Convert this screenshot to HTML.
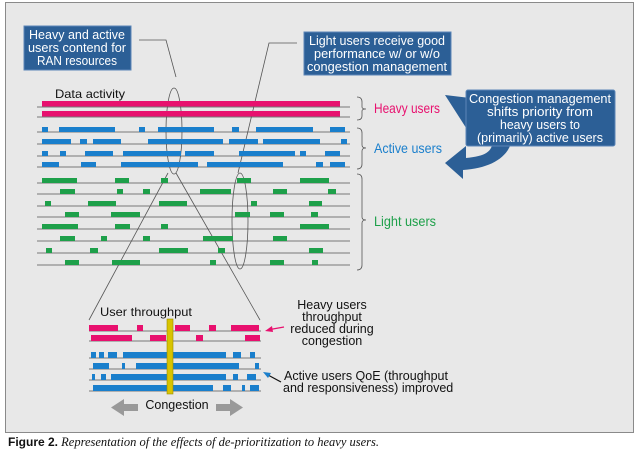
<!DOCTYPE html>
<html><head><meta charset="utf-8"><style>
html,body{margin:0;padding:0;background:#fff;width:640px;height:457px;overflow:hidden}
svg{display:block}
text{font-family:"Liberation Sans",sans-serif}
</style></head><body>
<svg width="640" height="457" viewBox="0 0 640 457" xmlns="http://www.w3.org/2000/svg">
<rect x="5.5" y="2.5" width="628" height="430" fill="#e8e8e8" stroke="#8a8a8a" stroke-width="1"/>

<rect x="24" y="26" width="107" height="44" fill="#2c5f96" stroke="#5b86b8"/>
<g fill="#fff" font-size="12.5" text-anchor="middle">
<text x="77" y="39" textLength="96" lengthAdjust="spacingAndGlyphs">Heavy and active</text>
<text x="77" y="52" textLength="98" lengthAdjust="spacingAndGlyphs">users contend for</text>
<text x="77" y="65" textLength="80" lengthAdjust="spacingAndGlyphs">RAN resources</text>
</g>
<rect x="304" y="32" width="147" height="43" fill="#2c5f96" stroke="#5b86b8"/>
<g fill="#fff" font-size="12.5" text-anchor="middle">
<text x="377" y="45" textLength="136" lengthAdjust="spacingAndGlyphs">Light users receive good</text>
<text x="377" y="58" textLength="126" lengthAdjust="spacingAndGlyphs">performance w/ or w/o</text>
<text x="377" y="71" textLength="140" lengthAdjust="spacingAndGlyphs">congestion management</text>
</g>
<path d="M445,95 L470,98 L470,134 Z" fill="#2c5f96"/>
<path d="M493,140 C492,152 486,156 466,158 L466,146 L445,163 L463,179 L463,170 C490,168 508,158 512,140 Z" fill="#2c5f96"/>
<rect x="466" y="90" width="149" height="56" rx="2" fill="#2c5f96" stroke="#5b86b8"/>
<g fill="#fff" font-size="12.5" text-anchor="middle">
<text x="540" y="103" textLength="142" lengthAdjust="spacingAndGlyphs">Congestion management</text>
<text x="540" y="116" textLength="106" lengthAdjust="spacingAndGlyphs">shifts priority from</text>
<text x="540" y="129" textLength="80" lengthAdjust="spacingAndGlyphs">heavy users to</text>
<text x="540" y="142" textLength="126" lengthAdjust="spacingAndGlyphs">(primarily) active users</text>
</g>

<g fill="none" stroke="#555" stroke-width="0.8">
<polyline points="139,40 166,40 176,77"/>
<polyline points="297,43 269,43 238,173"/>
<ellipse cx="174" cy="131" rx="8" ry="43"/>
<ellipse cx="240" cy="221" rx="8" ry="48"/>
<line x1="168" y1="173" x2="89" y2="320"/>
<line x1="176" y1="173" x2="260" y2="320"/>
</g>

<text x="55" y="98" font-size="12" fill="#111" textLength="70" lengthAdjust="spacingAndGlyphs">Data activity</text>

<g stroke="#555" stroke-width="0.8">
<line x1="37" y1="107" x2="350" y2="107"/><line x1="37" y1="117" x2="350" y2="117"/>
<line x1="37" y1="132" x2="350" y2="132"/><line x1="37" y1="144" x2="350" y2="144"/>
<line x1="37" y1="156" x2="350" y2="156"/><line x1="37" y1="167" x2="350" y2="167"/>
<line x1="37" y1="183" x2="350" y2="183"/><line x1="37" y1="194" x2="350" y2="194"/>
<line x1="37" y1="206" x2="350" y2="206"/><line x1="37" y1="217" x2="350" y2="217"/>
<line x1="37" y1="229" x2="350" y2="229"/><line x1="37" y1="241" x2="350" y2="241"/>
<line x1="37" y1="253" x2="350" y2="253"/><line x1="37" y1="265" x2="350" y2="265"/>
</g>
<g fill="#e8106e">
<rect x="42" y="101" width="298" height="5.5"/><rect x="42" y="111" width="298" height="5.5"/>
</g>
<g fill="#1a7fcc">
<rect x="42" y="127" width="6" height="5"/><rect x="59" y="127" width="56" height="5"/><rect x="139" y="127" width="6" height="5"/><rect x="158" y="127" width="56" height="5"/><rect x="232" y="127" width="7" height="5"/><rect x="256" y="127" width="57" height="5"/><rect x="330" y="127" width="15" height="5"/>
<rect x="42" y="139" width="29" height="5"/><rect x="80" y="139" width="7" height="5"/><rect x="93" y="139" width="28" height="5"/><rect x="148" y="139" width="75" height="5"/><rect x="229" y="139" width="29" height="5"/><rect x="263" y="139" width="57" height="5"/><rect x="341" y="139" width="6" height="5"/>
<rect x="42" y="151" width="6" height="5"/><rect x="60" y="151" width="6" height="5"/><rect x="85" y="151" width="28" height="5"/><rect x="123" y="151" width="58" height="5"/><rect x="185" y="151" width="29" height="5"/><rect x="239" y="151" width="56" height="5"/><rect x="300" y="151" width="6" height="5"/><rect x="325" y="151" width="15" height="5"/>
<rect x="42" y="162" width="17" height="5"/><rect x="81" y="162" width="15" height="5"/><rect x="121" y="162" width="77" height="5"/><rect x="207" y="162" width="76" height="5"/><rect x="316" y="162" width="7" height="5"/><rect x="330" y="162" width="15" height="5"/>
</g>
<g fill="#1ea04a">
<rect x="42" y="178" width="35" height="5"/><rect x="115" y="178" width="14" height="5"/><rect x="161" y="178" width="7" height="5"/><rect x="237" y="178" width="14" height="5"/><rect x="300" y="178" width="29" height="5"/>
<rect x="60" y="189" width="15" height="5"/><rect x="117" y="189" width="6" height="5"/><rect x="143" y="189" width="7" height="5"/><rect x="200" y="189" width="31" height="5"/><rect x="273" y="189" width="14" height="5"/><rect x="328" y="189" width="8" height="5"/>
<rect x="45" y="201" width="6" height="5"/><rect x="88" y="201" width="28" height="5"/><rect x="159" y="201" width="28" height="5"/><rect x="251" y="201" width="6" height="5"/><rect x="309" y="201" width="13" height="5"/>
<rect x="65" y="212" width="14" height="5"/><rect x="111" y="212" width="29" height="5"/><rect x="235" y="212" width="15" height="5"/><rect x="270" y="212" width="14" height="5"/><rect x="311" y="212" width="7" height="5"/>
<rect x="42" y="224" width="36" height="5"/><rect x="115" y="224" width="15" height="5"/><rect x="161" y="224" width="7" height="5"/><rect x="300" y="224" width="29" height="5"/>
<rect x="60" y="236" width="15" height="5"/><rect x="101" y="236" width="6" height="5"/><rect x="143" y="236" width="7" height="5"/><rect x="203" y="236" width="30" height="5"/><rect x="273" y="236" width="14" height="5"/>
<rect x="46" y="248" width="6" height="5"/><rect x="90" y="248" width="8" height="5"/><rect x="159" y="248" width="29" height="5"/><rect x="218" y="248" width="7" height="5"/><rect x="309" y="248" width="14" height="5"/>
<rect x="65" y="260" width="14" height="5"/><rect x="112" y="260" width="28" height="5"/><rect x="210" y="260" width="6" height="5"/><rect x="270" y="260" width="14" height="5"/><rect x="312" y="260" width="6" height="5"/>
</g>

<g fill="none" stroke="#555" stroke-width="0.8">
<path d="M357,97 Q362,97 362,102 L362,107 Q362,109 366,109 Q362,109 362,111 L362,116 Q362,120 357,120"/>
<path d="M357,128 Q362,128 362,133 L362,145 Q362,148 366,148 Q362,148 362,151 L362,164 Q362,169 357,169"/>
<path d="M357,174 Q362,174 362,179 L362,217 Q362,220 366,220 Q362,220 362,223 L362,265 Q362,270 357,270"/>
</g>
<text x="374" y="113" font-size="14" fill="#e8106e" textLength="66" lengthAdjust="spacingAndGlyphs">Heavy users</text>
<text x="374" y="153" font-size="14" fill="#1a7fcc" textLength="68" lengthAdjust="spacingAndGlyphs">Active users</text>
<text x="374" y="226" font-size="14" fill="#1ea04a" textLength="62" lengthAdjust="spacingAndGlyphs">Light users</text>

<text x="100" y="316" font-size="12" fill="#111" textLength="92" lengthAdjust="spacingAndGlyphs">User throughput</text>
<g stroke="#555" stroke-width="0.8">
<line x1="89" y1="331" x2="261" y2="331"/><line x1="89" y1="341" x2="261" y2="341"/>
<line x1="89" y1="358" x2="261" y2="358"/><line x1="89" y1="369" x2="261" y2="369"/>
<line x1="89" y1="380" x2="261" y2="380"/><line x1="89" y1="391" x2="261" y2="391"/>
</g>
<g fill="#e8106e">
<rect x="89" y="325" width="29" height="6"/><rect x="137" y="325" width="6" height="6"/><rect x="175" y="325" width="15" height="6"/><rect x="209" y="325" width="7" height="6"/><rect x="231" y="325" width="28" height="6"/>
<rect x="91" y="335" width="41" height="6"/><rect x="150" y="335" width="16" height="6"/><rect x="196" y="335" width="7" height="6"/><rect x="245" y="335" width="15" height="6"/>
</g>
<g fill="#1a7fcc">
<rect x="91" y="352" width="5" height="6"/><rect x="99" y="352" width="5" height="6"/><rect x="108" y="352" width="9" height="6"/><rect x="123" y="352" width="103" height="6"/><rect x="233" y="352" width="8" height="6"/><rect x="250" y="352" width="5" height="6"/>
<rect x="93" y="363" width="16" height="6"/><rect x="122" y="363" width="3" height="6"/><rect x="136" y="363" width="103" height="6"/><rect x="255" y="363" width="4" height="6"/>
<rect x="92" y="374" width="3" height="6"/><rect x="101" y="374" width="5" height="6"/><rect x="111" y="374" width="115" height="6"/><rect x="233" y="374" width="5" height="6"/><rect x="247" y="374" width="9" height="6"/>
<rect x="93" y="385" width="120" height="6"/><rect x="223" y="385" width="8" height="6"/><rect x="242" y="385" width="3" height="6"/><rect x="250" y="385" width="9" height="6"/>
</g>
<rect x="167" y="319" width="6" height="75" fill="#d8c400" stroke="#9a8a00" stroke-width="0.6"/>
<g fill="#999">
<path d="M111,407.5 L124,399 L124,404 L138,404 L138,411 L124,411 L124,416 Z"/>
<path d="M243,407.5 L230,399 L230,404 L216,404 L216,411 L230,411 L230,416 Z"/>
</g>
<text x="177" y="409" font-size="12.5" fill="#111" text-anchor="middle">Congestion</text>

<g font-size="12.5" fill="#111" text-anchor="middle">
<text x="332" y="309">Heavy users</text>
<text x="332" y="321">throughput</text>
<text x="332" y="333">reduced during</text>
<text x="332" y="345">congestion</text>
</g>
<line x1="270" y1="329.5" x2="284" y2="327" stroke="#e8106e" stroke-width="1.2"/>
<path d="M265,331 L272,326 L273,332 Z" fill="#e8106e"/>
<line x1="268" y1="375" x2="281" y2="382" stroke="#111" stroke-width="1.2"/>
<path d="M263,372 L271,373 L268,378 Z" fill="#1a7fcc"/>
<g font-size="12.5" fill="#111">
<text x="284" y="380">Active users QoE (throughput</text>
<text x="283" y="392">and responsiveness) improved</text>
</g>

<text x="8" y="446" font-size="12" fill="#111"><tspan font-weight="bold">Figure 2.</tspan><tspan font-family="Liberation Serif" font-style="italic" font-size="12.5"> Representation of the effects of de-prioritization to heavy users.</tspan></text>
</svg>
</body></html>
